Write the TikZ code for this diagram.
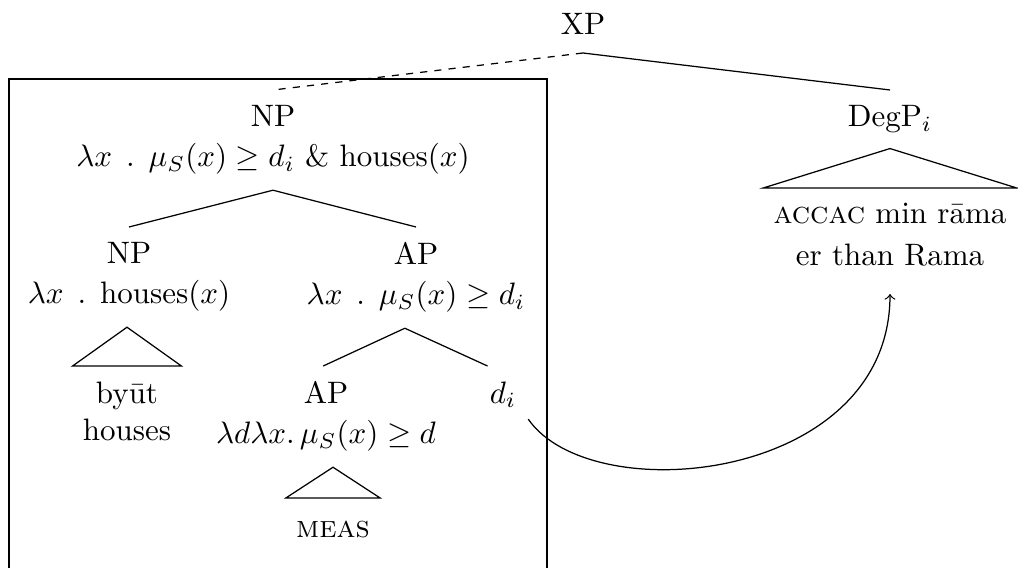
\documentclass[tikz,border=0pt]{standalone}
\newcommand{\lgap}{\hspace{4.5pt}}
\begin{document}
\begin{tikzpicture}[x=0.3226pt,y=-0.3226pt,
  tn/.style={align=center,inner sep=0pt,outer xsep=0pt,outer ysep=5pt},
  leaf/.style={align=center,inner xsep=3.33pt,inner ysep=0pt,outer xsep=0pt,outer ysep=5pt},
  mdash/.style={dash pattern=on 2.3pt off 2.3pt}]
\useasboundingbox (0,0) rectangle (1018,568);
% box
\draw (9,568) -- (9,79) -- (547,79) -- (547,568);
% nodes
\node[tn,anchor=south,outer ysep=6pt] (xp) at (583,53) {XP};
\node[tn,anchor=north] (np1) at (273,90) {NP\\[1pt]$\lambda x\lgap.\lgap\mu_S(x)\geq d_i$ \& houses($x$)};
\node[tn,anchor=north] (degp) at (890,90) {DegP$_i$};
\node[leaf,anchor=north] (acc) at (890,188) {\textsc{accac} min r\=ama\\[1.5pt]er than Rama};
\node[tn,anchor=north] (np2) at (129,227) {NP\\[1pt]$\lambda x\lgap.\lgap$houses($x$)};
\node[tn,anchor=north] (ap2) at (416,227) {AP\\[1pt]$\lambda x\lgap.\lgap\mu_S(x)\geq d_i$};
\node[leaf,anchor=north] (byut) at (127,366) {by\=ut\\houses};
\node[tn,anchor=north] (ap3) at (326,366) {AP\\[1pt]$\lambda d\lambda x.\,\mu_S(x)\geq d$};
\node[tn,anchor=north] (di) at (503,366) {$d_i$};
\node[leaf,anchor=north,text height=7.8pt] (meas) at (333,498) {\textsc{meas}};
% edges
\draw[mdash] (xp.south) -- (np1.north);
\draw (xp.south) -- (degp.north);
\draw (acc.north |- degp.south) -- (acc.north west) -- (acc.north east) -- cycle;
\draw (np1.south) -- (np2.north);
\draw (np1.south) -- (ap2.north);
\draw (byut.north |- np2.south) -- (byut.north west) -- (byut.north east) -- cycle;
\draw ([xshift=-3.6pt]ap2.south) -- ([xshift=-0.9pt]ap3.north);
\draw ([xshift=-3.6pt]ap2.south) -- ([xshift=-5pt]di.north);
\draw (meas.north |- ap3.south) -- (meas.north west) -- (meas.north east) -- cycle;
% movement arrow
\draw[->,shorten >=3.9pt] ([shift={(12,-4)}]di.south east) .. controls +(64,92) and +(0,200) .. (acc.south);
\end{tikzpicture}
\end{document}
